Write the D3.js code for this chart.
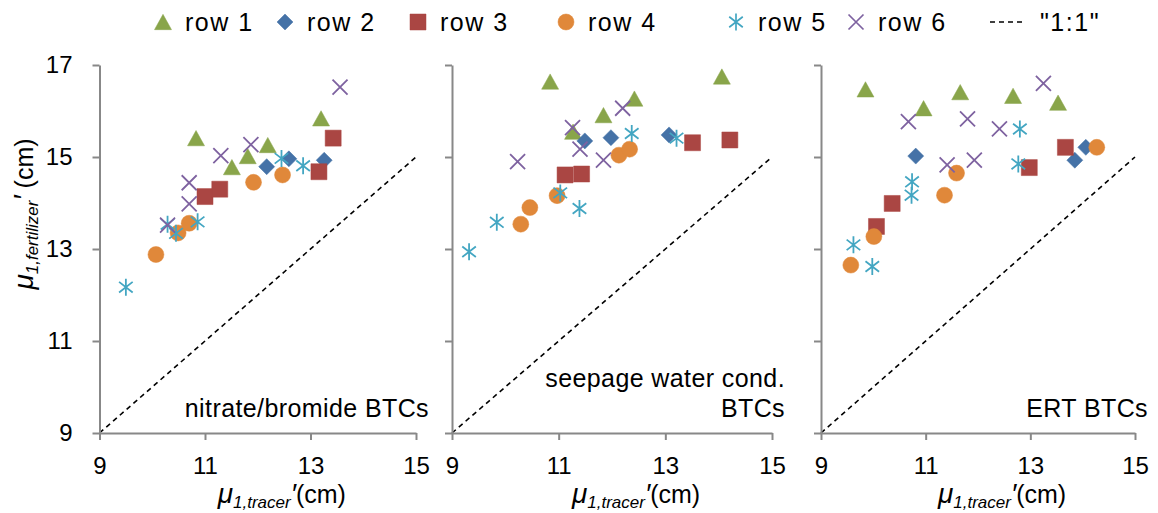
<!DOCTYPE html>
<html>
<head>
<meta charset="utf-8">
<script src="https://cdn.jsdelivr.net/npm/d3@7"></script>
<style>
  body { margin: 0; background: #fff; }
  svg text { font-family: "Liberation Sans", Arial, sans-serif; fill: #000; }
</style>
</head>
<body>
<svg id="chart" width="1158" height="513"></svg>
<script>
// series names + colours
var seriesNames = ['row 1', 'row 2', 'row 3', 'row 4', 'row 5', 'row 6'];
var seriesColors = ['#89A54A', '#4572A7', '#AA4643', '#E0883A', '#43A6C2', '#7E62A0'];
var xTicks = [9, 11, 13, 15];
var yTicks = [9, 11, 13, 15, 17];

// panel captions
var panelTitles = [['nitrate/bromide BTCs'], ['seepage water cond.', 'BTCs'], ['ERT BTCs']];

// [tracer, fertilizer] pairs, per panel, per row
var nitrate = [
  [[10.83, 15.41], [11.51, 14.78], [11.81, 15.02], [12.19, 15.26], [13.20, 15.84]],
  [[12.17, 14.79], [12.59, 14.96], [13.26, 14.93]],
  [[11.00, 14.14], [11.28, 14.30], [13.16, 14.68], [13.43, 15.41]],
  [[10.07, 12.88], [10.49, 13.35], [10.70, 13.56], [11.92, 14.45], [12.47, 14.61]],
  [[9.50, 12.17], [10.29, 13.54], [10.45, 13.34], [10.86, 13.59], [12.45, 14.97], [12.86, 14.81]],
  [[13.56, 16.52], [11.87, 15.27], [11.30, 15.03], [10.70, 14.44], [10.70, 13.98], [10.29, 13.52]]
];
var seepage = [
  [[10.84, 16.64], [11.27, 15.55], [11.84, 15.91], [12.42, 16.27], [14.06, 16.75]],
  [[11.49, 15.35], [11.98, 15.42], [13.07, 15.48]],
  [[11.12, 14.61], [11.43, 14.63], [13.51, 15.31], [14.21, 15.37]],
  [[10.29, 13.54], [10.46, 13.90], [10.97, 14.16], [12.13, 15.04], [12.33, 15.17]],
  [[9.32, 12.94], [9.84, 13.58], [11.03, 14.22], [11.39, 13.88], [12.37, 15.51], [13.21, 15.41]],
  [[10.23, 14.90], [11.26, 15.64], [11.40, 15.17], [11.84, 14.93], [12.20, 16.06]]
];
var ert = [
  [[9.85, 16.47], [10.96, 16.06], [11.66, 16.41], [12.67, 16.33], [13.53, 16.18]],
  [[10.81, 15.02], [13.85, 14.93], [14.06, 15.21]],
  [[10.06, 13.49], [10.36, 13.99], [12.98, 14.77], [13.67, 15.21]],
  [[9.57, 12.65], [10.01, 13.27], [11.36, 14.17], [11.59, 14.65], [14.27, 15.21]],
  [[9.62, 13.09], [9.98, 12.62], [10.73, 14.17], [10.74, 14.46], [12.77, 14.85], [12.80, 15.61]],
  [[10.67, 15.77], [11.80, 15.83], [13.25, 16.60], [12.41, 15.61], [11.41, 14.83], [11.93, 14.93]]
];
var panelData = [nitrate, seepage, ert];
var oneToOne = [[9, 9], [15, 15]];

// custom marker shapes; size = half width in px
var shapes = [
  { draw: function(c, r) { var h = r * 0.9; c.moveTo(0, -h); c.lineTo(r, h); c.lineTo(-r, h); c.closePath(); } },
  { draw: function(c, r) { c.moveTo(0, -r); c.lineTo(r, 0); c.lineTo(0, r); c.lineTo(-r, 0); c.closePath(); } },
  { draw: function(c, r) { c.rect(-r, -r, 2 * r, 2 * r); } },
  { draw: function(c, r) { c.moveTo(r, 0); c.arc(0, 0, r, 0, 2 * Math.PI); } },
  { draw: function(c, r) {
      c.moveTo(0, -r); c.lineTo(0, r);
      var dx = r * 0.8, dy = r * 0.62;
      c.moveTo(-dx, -dy); c.lineTo(dx, dy);
      c.moveTo(-dx, dy); c.lineTo(dx, -dy);
  } },
  { draw: function(c, r) { c.moveTo(-r, -r); c.lineTo(r, r); c.moveTo(-r, r); c.lineTo(r, -r); } }
];
var shapeSize = [8.5, 8, 8, 8, 8.5, 7.5];
var filled = [true, true, true, true, false, false];

var svg = d3.select('#chart');
var axisColor = '#888888';

var panels = [
  { left: 99.5, right: 416 },
  { left: 452, right: 772 },
  { left: 821, right: 1135 }
];
var plotTop = 65, plotBottom = 433;

function marker(i, r) {
  return d3.symbol().type(shapes[i]).size(r || shapeSize[i])();
}

panels.forEach(function(p, pi) {
  var x = d3.scaleLinear().domain([9, 15]).range([p.left, p.right]);
  var y = d3.scaleLinear().domain([9, 17]).range([plotBottom, plotTop]);
  var g = svg.append('g');

  // 1:1 line
  g.append('path')
    .attr('d', d3.line().x(function(d) { return x(d[0]); }).y(function(d) { return y(d[1]); })(oneToOne))
    .attr('fill', 'none').attr('stroke', '#000').attr('stroke-width', 1.6)
    .attr('stroke-dasharray', '5,4');

  // axes
  var xa = g.append('g').attr('transform', 'translate(0,' + plotBottom + ')')
    .call(d3.axisBottom(x).tickValues(xTicks).tickFormat(d3.format('d')).tickSize(7).tickPadding(17).tickSizeOuter(0));
  var ya = g.append('g').attr('transform', 'translate(' + p.left + ',0)')
    .call(d3.axisLeft(y).tickValues(yTicks).tickFormat(d3.format('d')).tickSize(7).tickPadding(20).tickSizeOuter(0));
  [xa, ya].forEach(function(a) {
    a.select('.domain').attr('stroke', axisColor).attr('stroke-width', 2);
    a.selectAll('.tick line').attr('stroke', axisColor).attr('stroke-width', 2);
    a.selectAll('.tick text').attr('font-size', 24).attr('font-family', '"Liberation Sans", Arial, sans-serif').attr('fill', '#000');
  });
  if (pi > 0) ya.selectAll('.tick text').remove();

  // points
  panelData[pi].forEach(function(rows, si) {
    g.selectAll(null).data(rows).enter().append('path')
      .attr('transform', function(d) { return 'translate(' + x(d[0]) + ',' + y(d[1]) + ')'; })
      .attr('d', marker(si))
      .attr('fill', filled[si] ? seriesColors[si] : 'none')
      .attr('stroke', seriesColors[si])
      .attr('stroke-width', filled[si] ? 0.5 : 1.8);
  });

  // caption
  var cap = g.append('text').attr('text-anchor', 'end').attr('font-size', 25).attr('letter-spacing', 0.4);
  var lines = panelTitles[pi];
  lines.forEach(function(t, li) {
    cap.append('tspan').attr('x', p.right + 13).attr('y', 417 - (lines.length - 1 - li) * 30).text(t);
  });

  // x axis title
  var xt = g.append('text').attr('x', (p.left + p.right) / 2 + 24).attr('y', 503)
    .attr('text-anchor', 'middle').attr('font-size', 25);
  xt.append('tspan').attr('font-style', 'italic').attr('font-size', 28).text('μ');
  xt.append('tspan').attr('font-style', 'italic').attr('font-size', 17).attr('dy', 5).text('1,tracer');
  xt.append('tspan').attr('font-style', 'italic').attr('font-size', 28).attr('dy', -5).text('′');
  xt.append('tspan').text('(cm)');
});

// y axis title
var yt = svg.append('text').attr('transform', 'translate(33,214) rotate(-90)')
  .attr('text-anchor', 'middle').attr('font-size', 25);
yt.append('tspan').attr('font-style', 'italic').attr('font-size', 28).text('μ');
yt.append('tspan').attr('font-style', 'italic').attr('font-size', 17).attr('dy', 5).text('1,fertilizer');
yt.append('tspan').attr('font-style', 'italic').attr('font-size', 28).attr('dy', -5).text('′');
yt.append('tspan').text(' (cm)');

// legend
var legX = [163, 285, 418, 566, 736, 856];
var leg = svg.append('g');
seriesNames.forEach(function(n, i) {
  leg.append('path').attr('transform', 'translate(' + legX[i] + ',22)')
    .attr('d', marker(i))
    .attr('fill', filled[i] ? seriesColors[i] : 'none')
    .attr('stroke', seriesColors[i]).attr('stroke-width', filled[i] ? 0.5 : 1.7);
  leg.append('text').attr('x', legX[i] + 22).attr('y', 31).attr('font-size', 25).attr('letter-spacing', 1.5).text(n);
});
leg.append('line').attr('x1', 990).attr('x2', 1026).attr('y1', 22).attr('y2', 22)
  .attr('stroke', '#000').attr('stroke-width', 1.6).attr('stroke-dasharray', '5,4');
leg.append('text').attr('x', 1040).attr('y', 31).attr('font-size', 25).attr('letter-spacing', 1.5).text('"1:1"');
</script>
</body>
</html>
